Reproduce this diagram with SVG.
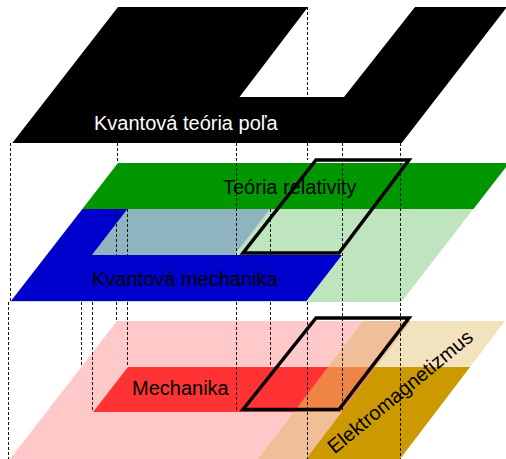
<svg xmlns="http://www.w3.org/2000/svg" width="506" height="459" viewBox="0 0 506 459">
<style>
.lbl{font-family:"Liberation Sans",Arial,sans-serif;font-size:20px}
.dash{stroke:#111;stroke-width:1;stroke-dasharray:3 2;fill:none}
.outline{fill:none;stroke:#000;stroke-width:3.5;stroke-linejoin:miter}
</style>
<rect width="506" height="459" fill="#fff"/>
<g id="qft">
<polygon points="118,7 308,7 239.5,97 344,97 415,7 507,7 401.7,143 12.3,143" fill="#000"/>
<text class="lbl" x="94" y="130" fill="#fff">Kvantová teória poľa</text>
</g>
<g id="relativity">
<polygon points="118,163 509,163 401.3,302 10.3,302" fill="#bfe5bf"/>
<polygon points="118,163 509,163 473.4,209 82.4,209" fill="#009600"/>
<text class="lbl" x="223" y="194" fill="#000">Teória relativity</text>
</g>
<g id="quantum-mechanics">
<polygon points="127.5,209 270,209 234.5,255 91.9,255" fill="#8fb4c0"/>
<polygon points="82.4,209 127.5,209 91.9,255 342,255 306.4,301 11,301" fill="#0000cc"/>
<text class="lbl" x="92" y="286" fill="#000">Kvantová mechanika</text>
</g>
<g id="mechanics">
<polygon points="117,321 411,321 306,459 10,459" fill="#ffc9c9"/>
</g>
<g id="electromagnetism">
<polygon points="363,321 505,321 400,459 258,459" fill="#f2e2be"/>
<polygon points="363,321 411,321 306,459 258,459" fill="#f0bf98"/>
</g>
<g id="mechanics-core">
<polygon points="128,367 376,367 341.8,412 93,412" fill="#ff3333"/>
<polygon points="328,367 376,367 341.8,412 293.8,412" fill="#ee8446"/>
<text class="lbl" x="132" y="395" fill="#000">Mechanika</text>
</g>
<g id="electromagnetism-core">
<polygon points="376,367 470,367 400,459 306,459" fill="#cc9900"/>
</g>
<g id="connectors">
<line class="dash" x1="307.5" y1="7" x2="307.5" y2="97"/>
<line class="dash" x1="10.5" y1="143" x2="10.5" y2="301"/>
<line class="dash" x1="8.5" y1="302" x2="8.5" y2="459"/>
<line class="dash" x1="117.5" y1="143" x2="117.5" y2="163"/>
<line class="dash" x1="236.5" y1="143" x2="236.5" y2="255"/>
<line class="dash" x1="236.5" y1="302" x2="236.5" y2="410"/>
<line class="dash" x1="307.5" y1="143" x2="307.5" y2="160"/>
<line class="dash" x1="307.5" y1="302" x2="307.5" y2="459"/>
<line class="dash" x1="342.5" y1="143" x2="342.5" y2="410"/>
<line class="dash" x1="400.5" y1="143" x2="400.5" y2="459"/>
<line class="dash" x1="116.5" y1="209" x2="116.5" y2="255"/>
<line class="dash" x1="116.5" y1="302" x2="116.5" y2="321"/>
<line class="dash" x1="127.5" y1="209" x2="127.5" y2="255"/>
<line class="dash" x1="127.5" y1="302" x2="127.5" y2="367"/>
<line class="dash" x1="270.5" y1="209" x2="270.5" y2="255"/>
<line class="dash" x1="270.5" y1="302" x2="270.5" y2="367"/>
<line class="dash" x1="81.5" y1="302" x2="81.5" y2="365"/>
<line class="dash" x1="92.5" y1="302" x2="92.5" y2="412"/>
</g>
<g id="em-label">
<text class="lbl" x="404.5" y="397" text-anchor="middle" fill="#000" transform="rotate(-39.5 404.5 397)">Elektromagnetizmus</text>
</g>
<g id="outline-upper">
<polygon class="outline" points="316,160 409,160 339,253 243,253"/>
</g>
<g id="outline-lower">
<polygon class="outline" points="316,318 409,318 339,409.5 243,409.5"/>
</g>
</svg>
